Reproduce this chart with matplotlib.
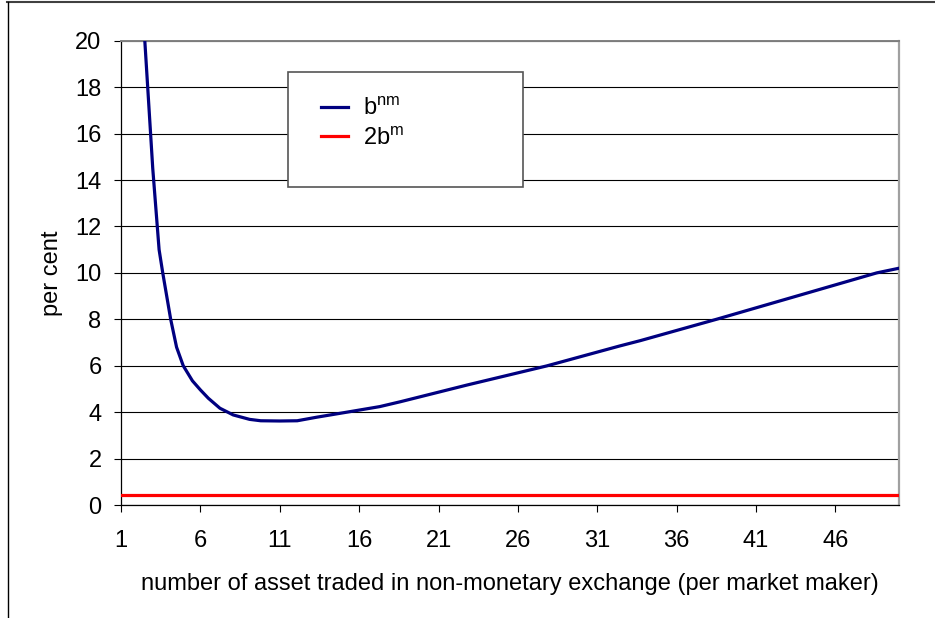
import matplotlib
matplotlib.use("Agg")
import matplotlib.pyplot as plt
from matplotlib.lines import Line2D
from matplotlib.patches import Rectangle

plt.rcParams['font.family'] = ['Liberation Sans', 'DejaVu Sans']
plt.rcParams['mathtext.default'] = 'regular'

# values
x_bnm = [2.0, 2.5, 3.0, 3.4, 3.63, 4.13, 4.5, 4.92, 5.5, 6.0, 6.5, 7.23, 8.07,
         9.1, 9.8, 11.0, 12.1, 13.3, 15.4, 17.3, 18.6, 22.8, 27.8, 32.4, 33.7,
         38.5, 43.5, 48.6, 50.0]
y_bnm = [27.0, 20.0, 14.5, 11.0, 10.0, 8.0, 6.8, 6.0, 5.35, 4.96, 4.6, 4.17,
         3.88, 3.69, 3.63, 3.62, 3.63, 3.78, 4.02, 4.24, 4.45, 5.17, 5.99, 6.85,
         7.08, 8.0, 8.99, 10.0, 10.2]
x_2bm = [1, 50]
y_2bm = [0.43, 0.43]

xticks = [1, 6, 11, 16, 21, 26, 31, 36, 41, 46]
yticks = [0, 2, 4, 6, 8, 10, 12, 14, 16, 18, 20]

fig = plt.figure(figsize=(9.35, 6.18), dpi=100)
ax = fig.add_axes([0.1294, 0.1828, 0.8321, 0.7513])

ax.plot(x_bnm, y_bnm, color='#000080', lw=2.3, solid_joinstyle='round', zorder=3)
ax.plot(x_2bm, y_2bm, color='#ff0000', lw=2.3, zorder=3)

ax.set_xlim(1, 50)
ax.set_ylim(0, 20)
ax.set_xticks(xticks)
ax.set_yticks(yticks)
ax.tick_params(axis='both', direction='out', length=5, width=0.8, color='black',
               labelsize=17)
ax.tick_params(axis='y', pad=9)
ax.tick_params(axis='x', pad=13)
ax.yaxis.grid(True, color='black', lw=0.8)
ax.set_axisbelow(True)

ax.spines['left'].set_color('black')
ax.spines['left'].set_linewidth(0.9)
ax.spines['bottom'].set_color('black')
ax.spines['bottom'].set_linewidth(0.9)
ax.spines['top'].set_color('#808080')
ax.spines['top'].set_linewidth(1.4)
ax.spines['right'].set_color('#a0a0a0')
ax.spines['right'].set_linewidth(1.6)

ax.set_ylabel('per cent', fontsize=17, labelpad=9)
ax.set_xlabel('number of asset traded in non-monetary exchange (per market maker)',
              fontsize=17, labelpad=15)

# legend box (Excel style, larger than its contents)
W, H = 935.0, 618.0
box = Rectangle((288 / W, 1 - 187 / H), (523 - 288) / W, (187 - 72) / H,
                transform=fig.transFigure, facecolor='white', edgecolor='#555555',
                lw=1.2, zorder=5, clip_on=False)
ax.add_patch(box)
leg = ax.legend([Line2D([], [], color='#000080', lw=2.3),
                 Line2D([], [], color='#ff0000', lw=2.3)],
                ['b$^{nm}$', '2b$^{m}$'],
                loc='upper left', bbox_to_anchor=(309 / W, 1 - 86 / H),
                bbox_transform=fig.transFigure, frameon=False, fontsize=17,
                handlelength=1.15, handletextpad=0.65, labelspacing=0.32,
                borderpad=0.0)
leg.set_zorder(6)

# outer chart border (top and left only visible)
fig.add_artist(Line2D([7 / W, 1], [1 - 1.5 / H, 1 - 1.5 / H], transform=fig.transFigure,
                      color='#404040', lw=1.5))
fig.add_artist(Line2D([8 / W, 8 / W], [0, 1 - 1.5 / H], transform=fig.transFigure,
                      color='black', lw=1.0))

fig.savefig('out.png', dpi=100)
